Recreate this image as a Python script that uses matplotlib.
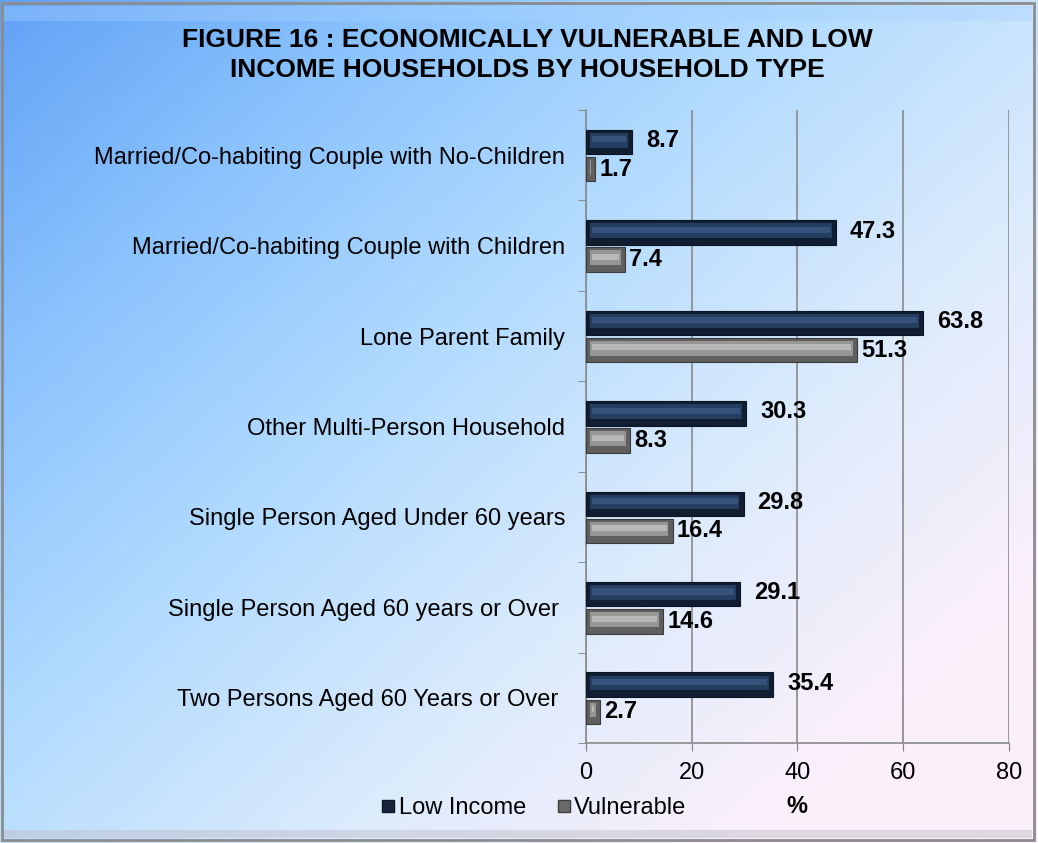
#!/usr/bin/env python3
"""Horizontal bar chart: economically vulnerable and low income households by type."""

import numpy as np
import matplotlib
matplotlib.use("Agg")
import matplotlib.pyplot as plt
from matplotlib.colors import LinearSegmentedColormap
from matplotlib.lines import Line2D
from matplotlib.patches import Rectangle

plt.rcParams["font.family"] = ["Liberation Sans", "DejaVu Sans"]

categories = [
    "Married/Co-habiting Couple with No-Children",
    "Married/Co-habiting Couple with Children",
    "Lone Parent Family",
    "Other Multi-Person Household",
    "Single Person Aged Under 60 years",
    "Single Person Aged 60 years or Over ",
    "Two Persons Aged 60 Years or Over ",
]
low_income = [8.7, 47.3, 63.8, 30.3, 29.8, 29.1, 35.4]
vulnerable = [1.7, 7.4, 51.3, 8.3, 16.4, 14.6, 2.7]
x_ticks = [0, 20, 40, 60, 80]

title = "FIGURE 16 : ECONOMICALLY VULNERABLE AND LOW\nINCOME HOUSEHOLDS BY HOUSEHOLD TYPE"

fig = plt.figure(figsize=(10.38, 8.43), dpi=100)

# diagonal background gradient, blue top-left to pale pink bottom-right
bg = fig.add_axes([0, 0, 1, 1], zorder=-10)
bg.set_axis_off()
gx, gy = np.meshgrid(np.linspace(0, 1, 400), np.linspace(0, 1, 400))
t = np.clip(0.62 * gx + 0.55 * gy, 0, 1)
bg_cmap = LinearSegmentedColormap.from_list(
    "bg", ["#62a2f6", "#8cc4fd", "#b4dcff", "#dcebfc", "#fbf0fa"])
bg.imshow(t, cmap=bg_cmap, extent=[0, 1, 0, 1], origin="upper", aspect="auto")
bg.set_xlim(0, 1)
bg.set_ylim(0, 1)
# bevelled frame
bg.add_patch(Rectangle((0.002, 0.003), 0.994, 0.994, fill=False,
                       edgecolor="#8c8c8c", linewidth=2.0))
bg.add_patch(Rectangle((0.004, 0.975), 0.99, 0.018, facecolor="#a8d2ff",
                       edgecolor="none", alpha=0.35))
bg.add_patch(Rectangle((0.004, 0.006), 0.99, 0.01, facecolor="#c0c0cc",
                       edgecolor="none", alpha=0.5))

ax = fig.add_axes([0.5645, 0.1186, 0.4075, 0.751])
ax.patch.set_alpha(0)

y = np.arange(len(categories))
h = 0.27
y_low = y - 0.145
y_vul = y + 0.155

# bevelled bars: dark body with a lighter raised face
ax.barh(y_low, low_income, height=h, color="#111d31", edgecolor="#0b1422",
        linewidth=0.8, zorder=3)
ax.barh(y_low - 0.02, [v - 1.6 for v in low_income], left=0.8, height=h * 0.6,
        color="#253d5e", edgecolor="none", zorder=4)
ax.barh(y_low - 0.03, [v - 2.2 for v in low_income], left=1.1, height=h * 0.25,
        color="#34527a", edgecolor="none", zorder=4)
ax.barh(y_vul, vulnerable, height=h, color="#5f5f5f", edgecolor="#3c3c3c",
        linewidth=0.8, zorder=3)
ax.barh(y_vul - 0.02, [max(v - 1.6, 0) for v in vulnerable], left=0.8,
        height=h * 0.6, color="#969696", edgecolor="none", zorder=4)
ax.barh(y_vul - 0.03, [max(v - 2.2, 0) for v in vulnerable], left=1.1,
        height=h * 0.25, color="#b8b8b8", edgecolor="none", zorder=4)

for yy, v in zip(y_low, low_income):
    ax.annotate(f"{v}", (v, yy), xytext=(10, 1), textcoords="offset points",
                ha="left", va="center", fontsize=17, fontweight="bold", zorder=5)
for yy, v in zip(y_vul, vulnerable):
    ax.annotate(f"{v}", (v, yy), xytext=(3, 0), textcoords="offset points",
                ha="left", va="center", fontsize=17, fontweight="bold", zorder=5)

ax.set_xlim(0, 80)
ax.set_ylim(len(categories) - 0.5, -0.5)
ax.set_xticks(x_ticks)
ax.set_yticks(y)
ax.set_yticklabels(categories)
ax.set_yticks(np.arange(-0.5, len(categories), 1), minor=True)
ax.tick_params(axis="y", which="major", length=0, pad=15, labelsize=17)
ax.tick_params(axis="y", which="minor", length=6, color="#808080", direction="out")
ax.tick_params(axis="x", length=6, color="#808080", direction="out", pad=8,
               labelsize=17)
ax.xaxis.grid(True, color="#8a8a8a", linewidth=1.2, zorder=0)
ax.set_axisbelow(True)
for side in ("top", "right"):
    ax.spines[side].set_visible(False)
for side in ("left", "bottom"):
    ax.spines[side].set_color("#8a8a8a")
    ax.spines[side].set_linewidth(1.2)

fig.text(0.508, 0.935, title, ha="center", va="center", fontsize=19,
         fontweight="bold", linespacing=1.3)

handles = [
    Line2D([], [], marker="s", linestyle="none", markersize=8,
           markerfacecolor="#17253c", markeredgecolor="#0d1626"),
    Line2D([], [], marker="s", linestyle="none", markersize=8,
           markerfacecolor="#6a6a6a", markeredgecolor="#3c3c3c"),
]
fig.legend(handles, ["Low Income", "Vulnerable"], loc="center",
           bbox_to_anchor=(0.513, 0.041), ncol=2, frameon=False, fontsize=17,
           handletextpad=0.05, columnspacing=1.2, handlelength=0.8)
fig.text(0.768, 0.043, "%", ha="center", va="center", fontsize=17,
         fontweight="bold")

fig.savefig("out.png", dpi=100)
